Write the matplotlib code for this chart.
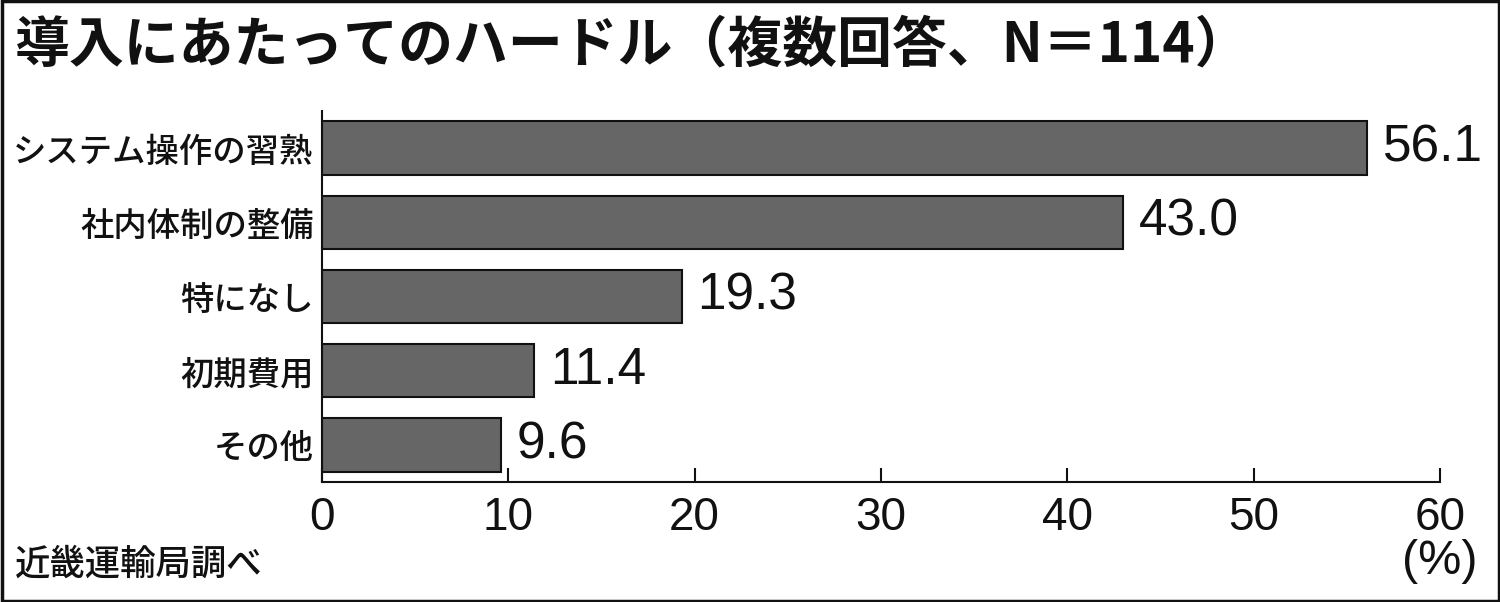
import matplotlib
matplotlib.use('Agg')
import matplotlib.pyplot as plt
from matplotlib.patches import Rectangle

# --- データ ---
categories = ['システム操作の習熟', '社内体制の整備', '特になし', '初期費用', 'その他']
values = [56.1, 43.0, 19.3, 11.4, 9.6]
xticks = [0, 10, 20, 30, 40, 50, 60]
title = '導入にあたってのハードル（複数回答、N＝114）'
source = '近畿運輸局調べ'
unit = '(%)'

# --- フォント ---
JP = 'Noto Sans CJK JP'
NUM = ['Liberation Sans', 'DejaVu Sans']
plt.rcParams['font.family'] = [JP, 'DejaVu Sans']

BAR = '#666666'
INK = '#111111'
W, H = 1500, 602

fig = plt.figure(figsize=(W / 100, H / 100), dpi=100)
fig.patch.set_facecolor('white')

# 外枠
fig.patches.append(Rectangle((0.001, 0.002), 0.998, 0.996, transform=fig.transFigure,
                             fill=False, edgecolor=INK, linewidth=2.5))

ax = fig.add_axes([322 / W, 1 - 482 / H, (1440 - 322) / W, (482 - 111) / H])

pos = list(range(len(categories)))
ax.barh(pos, values, height=0.72, color=BAR, edgecolor=INK, linewidth=1.5)

for i, v in zip(pos, values):
    ax.annotate(f'{v:.1f}', xy=(v, i), xytext=(11, 0), textcoords='offset points',
                va='center', ha='left', fontsize=37, family=NUM, color=INK)

ax.set_xlim(0, 60)
ax.set_ylim(4.5, -0.5)
ax.set_xticks(xticks)
ax.set_xticklabels([str(t) for t in xticks], family=NUM, fontsize=33, color=INK)
ax.set_yticks(pos)
ax.set_yticklabels(categories, fontsize=24, fontweight='medium', color=INK)

ax.tick_params(axis='x', direction='in', length=10, width=1.5, pad=10, color=INK)
ax.tick_params(axis='y', length=0, pad=6)
for s in ['top', 'right']:
    ax.spines[s].set_visible(False)
for s in ['left', 'bottom']:
    ax.spines[s].set_linewidth(1.5)
    ax.spines[s].set_color(INK)

# タイトル・出典・単位
fig.text(15 / W, 1 - 45 / H, title, fontsize=39.5, fontweight='bold', va='center', ha='left',
         color=INK)
fig.text(15 / W, 1 - 565 / H, source, fontsize=25.5, fontweight='medium', va='center',
         ha='left', color=INK)
fig.text(1440 / W, 1 - 561 / H, unit, family=NUM, fontsize=35, va='center', ha='center',
         color=INK)

fig.savefig('out.png', dpi=100)
